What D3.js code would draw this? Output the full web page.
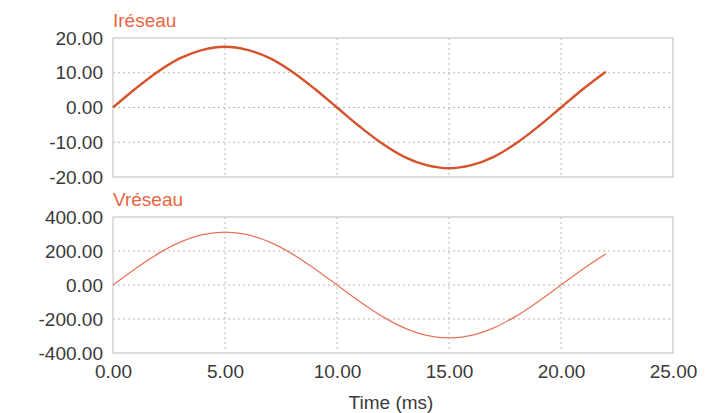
<!DOCTYPE html>
<html>
<head>
<meta charset="utf-8">
<script src="https://cdn.jsdelivr.net/npm/d3@7"></script>
<style>
  body { margin: 0; background: #ffffff; }
  svg { display: block; }
</style>
</head>
<body>
<div id="chart"></div>
<script>
// time samples (ms) and the two waveforms
const timeMs = [0, 1, 2, 3, 4, 5, 6, 7, 8, 9, 10, 11, 12, 13, 14, 15, 16, 17, 18, 19, 20, 21, 22];
const iReseau = [0, 5.4, 10.3, 14.2, 16.6, 17.5, 16.6, 14.2, 10.3, 5.4, 0, -5.4, -10.3, -14.2, -16.6, -17.5, -16.6, -14.2, -10.3, -5.4, 0, 5.4, 10.3];
const vReseau = [0, 96, 183, 252, 296, 311, 296, 252, 183, 96, 0, -96, -183, -252, -296, -311, -296, -252, -183, -96, 0, 96, 183];

const xTicks = [0, 5, 10, 15, 20, 25];
const iTicks = [-20, -10, 0, 10, 20];
const vTicks = [-400, -200, 0, 200, 400];

const width = 724;
const height = 413;
const left = 113, right = 673;
const font = '"Liberation Sans", Arial, sans-serif';
// plain hyphen for negatives, like the original
const fmt = d => d3.format('.2f')(d).replace('\u2212', '-');

const svg = d3
  .select('#chart')
  .append('svg')
  .attr('width', width)
  .attr('height', height);

const x = d3.scaleLinear().domain([0, 25]).range([left, right]);

function createPanel(top, bottom, yDomain, yTicks, values, title, color, lineWidth) {
  const y = d3.scaleLinear().domain(yDomain).range([bottom, top]);
  const g = svg.append('g');

  // grid
  g.append('g')
    .selectAll('line')
    .data(xTicks.filter(d => d > 0 && d < 25))
    .join('line')
    .attr('x1', d => x(d))
    .attr('x2', d => x(d))
    .attr('y1', top)
    .attr('y2', bottom)
    .attr('stroke', '#b8b8b8')
    .attr('stroke-width', 1)
    .attr('stroke-dasharray', '2,3');

  g.append('g')
    .selectAll('line')
    .data(yTicks.slice(1, -1))
    .join('line')
    .attr('x1', left)
    .attr('x2', right)
    .attr('y1', d => y(d))
    .attr('y2', d => y(d))
    .attr('stroke', '#b8b8b8')
    .attr('stroke-width', 1)
    .attr('stroke-dasharray', '2,3');

  // frame
  g.append('rect')
    .attr('x', left)
    .attr('y', top)
    .attr('width', right - left)
    .attr('height', bottom - top)
    .attr('fill', 'none')
    .attr('stroke', '#c8c8c8')
    .attr('stroke-width', 1.2);

  // y axis labels
  const axis = d3.axisLeft(y).tickValues(yTicks).tickFormat(fmt).tickSize(0).tickPadding(10);
  const ax = g.append('g').attr('transform', `translate(${left},0)`).call(axis);
  ax.select('.domain').remove();
  ax.selectAll('text')
    .attr('fill', '#3a3a3a')
    .style('font-family', font)
    .style('font-size', '19px');

  // title
  g.append('text')
    .attr('x', left)
    .attr('y', top - 11)
    .attr('fill', '#e8663f')
    .style('font-family', font)
    .style('font-size', '19px')
    .text(title);

  // waveform
  g.append('path')
    .datum(timeMs.map((t, i) => ({ t, v: values[i] })))
    .attr('fill', 'none')
    .attr('stroke', color)
    .attr('stroke-width', lineWidth)
    .attr('d', d3.line().curve(d3.curveCatmullRom).x(d => x(d.t)).y(d => y(d.v)));

  return y;
}

createPanel(38, 177, [-20, 20], iTicks, iReseau, 'Iréseau', '#d4532d', 2.4);
createPanel(217, 353, [-400, 400], vTicks, vReseau, 'Vréseau', '#e8735a', 1.2);

// x axis
const xAxis = d3.axisBottom(x).tickValues(xTicks).tickFormat(fmt).tickSize(0).tickPadding(12);
const xg = svg.append('g').attr('transform', 'translate(0,353)').call(xAxis);
xg.select('.domain').remove();
xg.selectAll('text')
  .attr('fill', '#3a3a3a')
  .style('font-family', font)
  .style('font-size', '19px');

svg.append('text')
  .attr('x', 391)
  .attr('y', 409)
  .attr('text-anchor', 'middle')
  .attr('fill', '#3a3a3a')
  .style('font-family', font)
  .style('font-size', '19px')
  .text('Time (ms)');
</script>
</body>
</html>
